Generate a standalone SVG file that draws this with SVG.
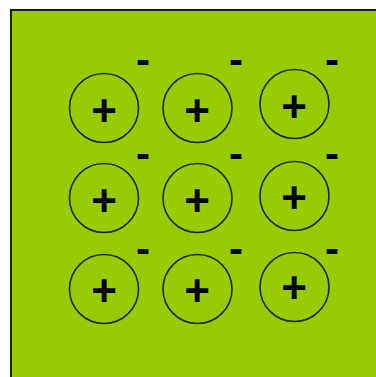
<svg xmlns="http://www.w3.org/2000/svg" width="376" height="377" viewBox="0 0 376 377">
<style>
.atom{fill:none;stroke:#1a2a00;stroke-width:1.6}
.p{font-family:"Liberation Sans",Arial,sans-serif;font-weight:bold;font-size:44px;fill:#000;text-anchor:middle}
.m{font-family:"Liberation Sans",Arial,sans-serif;font-weight:bold;font-size:42px;fill:#000;text-anchor:middle}
</style>
<rect x="0" y="0" width="376" height="377" fill="#ffffff"/>
<rect x="11" y="10" width="370" height="372" fill="#99cc00" stroke="#1a1a1a" stroke-width="2"/>
<g id="connectors"></g>
<g id="n1"><circle class="atom" cx="104" cy="108" r="34.5"/><text class="p" x="104" y="126">+</text><text class="m" x="143" y="74">-</text></g>
<g id="n2"><circle class="atom" cx="197.5" cy="108" r="34.5"/><text class="p" x="197" y="126">+</text><text class="m" x="236" y="74">-</text></g>
<g id="n3"><circle class="atom" cx="294.5" cy="104" r="34.5"/><text class="p" x="294" y="122">+</text><text class="m" x="332" y="74">-</text></g>
<g id="n4"><circle class="atom" cx="104" cy="198" r="34.5"/><text class="p" x="104" y="216">+</text><text class="m" x="143" y="168">-</text></g>
<g id="n5"><circle class="atom" cx="197.5" cy="198" r="34.5"/><text class="p" x="197" y="216">+</text><text class="m" x="236" y="168">-</text></g>
<g id="n6"><circle class="atom" cx="294.5" cy="196" r="34.5"/><text class="p" x="294" y="213">+</text><text class="m" x="332" y="168">-</text></g>
<g id="n7"><circle class="atom" cx="104" cy="289" r="34.5"/><text class="p" x="104" y="306">+</text><text class="m" x="143" y="263">-</text></g>
<g id="n8"><circle class="atom" cx="197.5" cy="289" r="34.5"/><text class="p" x="197" y="306">+</text><text class="m" x="236" y="263">-</text></g>
<g id="n9"><circle class="atom" cx="294.5" cy="287" r="34.5"/><text class="p" x="294" y="303">+</text><text class="m" x="332" y="263">-</text></g>
</svg>
